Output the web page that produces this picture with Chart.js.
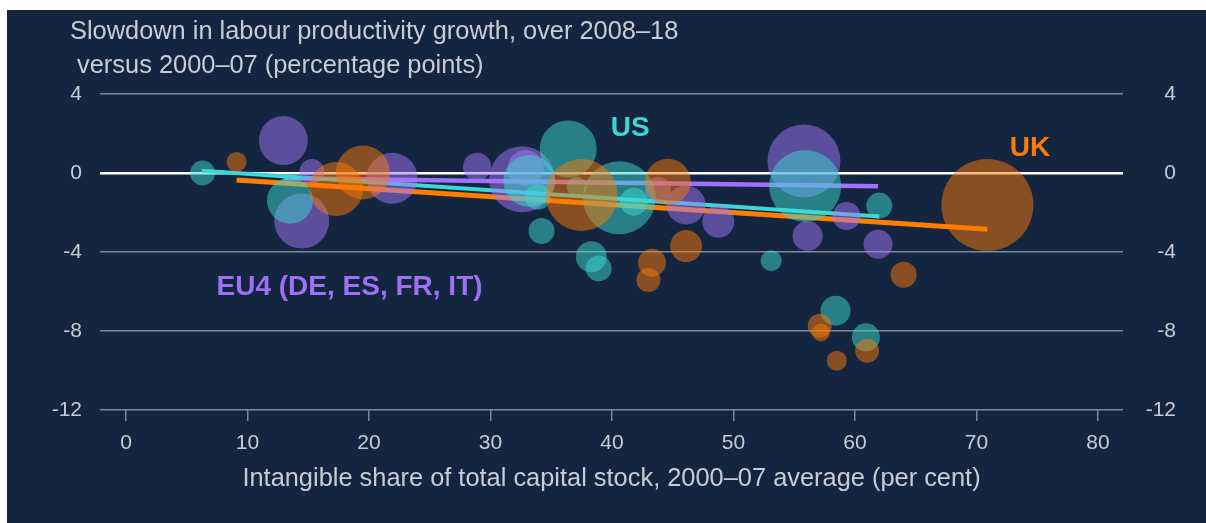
<!DOCTYPE html>
<html lang="en">
<head>
<meta charset="UTF-8">
<title>Intangibles and productivity slowdown</title>
<style>
  html, body { margin: 0; padding: 0; background: #fff; }
  #wrap { position: absolute; left: 7px; top: 10px; width: 1199px; height: 513px; background: #13253f; }
  canvas { display: block; }
</style>
</head>
<body>
<div id="wrap"><canvas id="canvas" width="1199" height="513"></canvas></div>
<script src="https://cdn.jsdelivr.net/npm/chart.js@4/dist/chart.umd.min.js"></script>
<script>
'use strict';

// ---- data ----
var titleLines = ['Slowdown in labour productivity growth, over 2008\u201318', ' versus 2000\u201307 (percentage points)'];
var xTitle = 'Intangible share of total capital stock, 2000\u201307 average (per cent)';
var xTicks = [0, 10, 20, 30, 40, 50, 60, 70, 80];
var yTicks = [-12, -8, -4, 0, 4];

// bubbles: intangible share, slowdown, bubble size
var ukBubbles = [
  [9.1, 0.56, 10], [17.3, -0.81, 27], [19.5, 0.03, 27], [37.5, -1.11, 36],
  [44.6, -0.44, 23], [46.1, -3.7, 16], [43.3, -4.54, 14], [43.0, -5.42, 12],
  [64.0, -5.15, 13], [57.1, -7.73, 12], [57.2, -8.07, 9], [61.0, -9.0, 12],
  [58.5, -9.5, 10], [70.9, -1.62, 46]
];
var usBubbles = [
  [6.3, 0.0, 12.5], [13.5, -1.4, 23], [36.4, 1.22, 28.5], [40.6, -1.25, 36.5],
  [37.1, -0.69, 10], [41.8, -1.45, 14], [34.2, -2.94, 13], [38.3, -4.24, 15.5],
  [38.9, -4.83, 13], [53.1, -4.44, 10.5], [55.9, -0.66, 36], [62.0, -1.65, 13],
  [58.4, -6.97, 15], [60.9, -8.32, 14], [33.2, -0.4, 26], [33.9, -1.2, 13]
];
var euBubbles = [
  [12.95, 1.64, 24.5], [15.3, 0.07, 12.5], [14.46, -2.43, 27.5], [21.9, -0.27, 25.5],
  [28.9, 0.32, 14], [32.6, -0.32, 33], [32.9, 0.25, 18], [43.8, -0.86, 13],
  [46.1, -1.62, 19.5], [48.75, -2.46, 16], [55.8, 0.61, 36.5], [59.3, -2.18, 14],
  [56.1, -3.19, 15], [61.9, -3.61, 14.5]
];

// fitted lines: [x, y] at each end
var ukTrend = [[9.1, -0.35], [70.9, -2.85]];
var usTrend = [[6.25, 0.12], [62.0, -2.2]];
var euTrend = [[12.95, -0.27], [61.9, -0.67]];

var seriesLabels = [
  { text: 'US', x: 41.5, y: 2.28, color: '#3dd6d6' },
  { text: 'UK', x: 74.4, y: 1.27, color: '#ff7b00' },
  { text: 'EU4 (DE, ES, FR, IT)', x: 18.4, y: -5.77, color: '#9f6ff6' }
];

var TEXT = '#c8cdd5';
var GRID = '#7e8896';
var FONT = "'Liberation Sans', Arial, sans-serif";

function toBubbles(arr) {
  return arr.map(function(p) { return { x: p[0], y: p[1], r: p[2] }; });
}
function toLine(arr) {
  return arr.map(function(p) { return { x: p[0], y: p[1] }; });
}

Chart.defaults.font.family = FONT;
Chart.defaults.color = TEXT;

// title and in-chart labels
var textPlugin = {
  id: 'texts',
  afterDraw: function(chart) {
    var c = chart.ctx;
    var xs = chart.scales.x, ys = chart.scales.y;
    c.save();
    c.fillStyle = TEXT;
    c.font = '25.4px ' + FONT;
    c.textBaseline = 'middle';
    c.textAlign = 'left';
    c.fillText(titleLines[0], 63, 22);
    c.fillText(titleLines[1], 63, 56);
    c.font = 'bold 28px ' + FONT;
    c.textAlign = 'center';
    seriesLabels.forEach(function(l) {
      c.fillStyle = l.color;
      c.fillText(l.text, xs.getPixelForValue(l.x), ys.getPixelForValue(l.y));
    });
    c.restore();
  }
};

var lineDefaults = { type: 'line', pointRadius: 0, fill: false, borderCapStyle: 'butt' };

var config = {
  type: 'bubble',
  data: {
    datasets: [
      { data: toBubbles(ukBubbles), backgroundColor: 'rgba(251,121,5,0.5)', borderWidth: 0 },
      { data: toBubbles(usBubbles), backgroundColor: 'rgba(62,218,210,0.5)', borderWidth: 0 },
      { data: toBubbles(euBubbles), backgroundColor: 'rgba(162,120,252,0.5)', borderWidth: 0 },
      Object.assign({ data: toLine(ukTrend), borderColor: '#ff7d00', borderWidth: 5 }, lineDefaults),
      Object.assign({ data: toLine(usTrend), borderColor: '#3ad8d8', borderWidth: 4 }, lineDefaults),
      Object.assign({ data: toLine(euTrend), borderColor: '#a070fc', borderWidth: 4.5 }, lineDefaults)
    ]
  },
  options: {
    responsive: false,
    animation: false,
    layout: { padding: { top: 84, right: 30, bottom: 25, left: 0 } },
    plugins: {
      legend: { display: false },
      tooltip: { enabled: false }
    },
    scales: {
      x: {
        type: 'linear',
        min: -2.14,
        max: 82.06,
        afterBuildTicks: function(s) { s.ticks = xTicks.map(function(v) { return { value: v }; }); },
        grid: { drawOnChartArea: false, tickLength: 11, color: GRID, lineWidth: 1.5 },
        border: { display: false },
        ticks: { color: TEXT, font: { size: 21 }, padding: 10, maxRotation: 0 },
        title: { display: true, text: xTitle, color: TEXT, font: { size: 25.4 }, padding: { top: 4, bottom: 4 } },
        afterFit: function(s) { s.height = 88; }
      },
      y: {
        position: 'left',
        min: -12,
        max: 4,
        afterBuildTicks: function(s) { s.ticks = yTicks.map(function(v) { return { value: v }; }); },
        grid: {
          drawTicks: false,
          color: function(ctx) { return ctx.tick && ctx.tick.value === 0 ? '#ffffff' : GRID; },
          lineWidth: function(ctx) { return ctx.tick && ctx.tick.value === 0 ? 2.5 : 1.5; }
        },
        border: { display: false },
        ticks: { color: TEXT, font: { size: 21 }, padding: 18 },
        afterFit: function(s) { s.width = 93; }
      },
      y2: {
        position: 'right',
        min: -12,
        max: 4,
        afterBuildTicks: function(s) { s.ticks = yTicks.map(function(v) { return { value: v }; }); },
        grid: { display: false, drawTicks: false },
        border: { display: false },
        ticks: { color: TEXT, font: { size: 21 }, padding: 17, crossAlign: 'far' },
        afterFit: function(s) { s.width = 53; }
      }
    }
  },
  plugins: [textPlugin]
};

var ctx = document.getElementById('canvas').getContext('2d');
var chart = new Chart(ctx, config);
</script>
</body>
</html>
